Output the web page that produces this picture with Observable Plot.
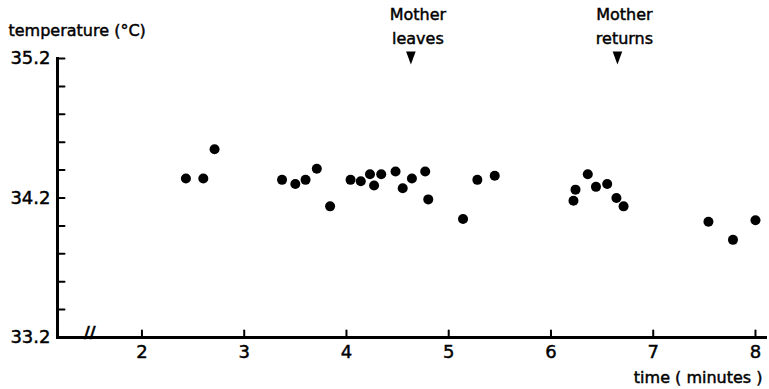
<!DOCTYPE html>
<html><head><meta charset="utf-8">
<script src="https://cdn.jsdelivr.net/npm/d3@7"></script>
<script src="https://cdn.jsdelivr.net/npm/@observablehq/plot@0.6"></script>
<style>body{margin:0;background:#fff;} svg{display:block;font-family:"DejaVu Sans",sans-serif;} svg text{stroke:black;stroke-width:0.45px;}</style>
</head><body><div id="chart"></div>
<script>
const timeMin = [2.43, 2.60, 2.71, 3.37, 3.50, 3.60, 3.71, 3.84, 4.04, 4.14, 4.23, 4.27, 4.34, 4.48, 4.55, 4.64, 4.77, 4.80, 5.14, 5.28, 5.45, 6.22, 6.24, 6.36, 6.44, 6.55, 6.64, 6.71, 7.54, 7.78, 8.00];
const tempC   = [34.34, 34.34, 34.55, 34.33, 34.30, 34.33, 34.41, 34.14, 34.33, 34.32, 34.37, 34.29, 34.37, 34.39, 34.27, 34.34, 34.39, 34.19, 34.05, 34.33, 34.36, 34.18, 34.26, 34.37, 34.28, 34.30, 34.20, 34.14, 34.03, 33.90, 34.04];
const eventLabels = ["Mother\nleaves", "Mother\nreturns"];
const eventTimes = [4.63, 6.65];
const xTicks = [2, 3, 4, 5, 6, 7, 8];
const yMajor = [33.2, 34.2, 35.2];
const yMinor = [33.4, 33.6, 33.8, 34.0, 34.2, 34.4, 34.6, 34.8, 35.0, 35.2];
const axisBreak = [1.49];
const xDomain = [1.174, 8.098];
const yDomain = [33.2, 35.2];
const yLabel = "temperature (°C)";
const xLabel = "time ( minutes )";

const points = timeMin.map((t, i) => ({t, v: tempC[i]}));
const events = eventTimes.map((t, i) => ({t, label: eventLabels[i]}));

const lineShape = {draw(ctx, l) { ctx.moveTo(0, 0); ctx.lineTo(0, -l); }};
const triShape = {draw(ctx, l) { ctx.moveTo(-4.8, -l); ctx.lineTo(4.8, -l); ctx.lineTo(0, 0); ctx.closePath(); }};

const chart = Plot.plot({
  width: 769,
  height: 389,
  marginLeft: 57,
  marginRight: 4,
  marginTop: 58,
  marginBottom: 52,
  style: {fontFamily: '"DejaVu Sans", sans-serif', color: "black", background: "white"},
  x: {domain: xDomain},
  y: {domain: yDomain},
  marks: [
    Plot.frame({anchor: "left", strokeWidth: 3}),
    Plot.frame({anchor: "bottom", strokeWidth: 3}),
    Plot.vector(yMinor, {y: d => d, frameAnchor: "left", length: 7, rotate: 90, anchor: "start", shape: lineShape, strokeWidth: 2}),
    Plot.vector(xTicks, {x: d => d, frameAnchor: "bottom", length: 7, rotate: 0, anchor: "start", shape: lineShape, strokeWidth: 2}),
    Plot.axisY(yMajor, {tickSize: 0, tickPadding: 7, fontSize: 18, tickFormat: d => d.toFixed(1), label: null}),
    Plot.axisX(xTicks, {tickSize: 0, tickPadding: 8, fontSize: 18, tickFormat: d => String(d), label: null}),
    Plot.text(axisBreak, {x: d => d, frameAnchor: "bottom", text: () => "//", fontSize: 16, fontWeight: "bold", dy: 0}),
    Plot.dot(points, {x: "t", y: "v", r: 5, fill: "black", stroke: null}),
    Plot.vector(events, {x: "t", frameAnchor: "top", length: 13, anchor: "start", shape: triShape, fill: "black", stroke: "none", dy: 6}),
    Plot.text(events, {x: "t", text: "label", frameAnchor: "top", lineAnchor: "bottom", lineHeight: 1.44, fontSize: 16, dx: 7, dy: -15}),
    Plot.text([yLabel], {text: d => d, frameAnchor: "top-left", textAnchor: "start", lineAnchor: "bottom", fontSize: 16, dx: -49, dy: -23}),
    Plot.text([xLabel], {text: d => d, frameAnchor: "bottom-right", textAnchor: "end", lineAnchor: "bottom", fontSize: 16, dx: -3, dy: 45})
  ]
});
document.getElementById("chart").append(chart);
</script>
</body></html>
